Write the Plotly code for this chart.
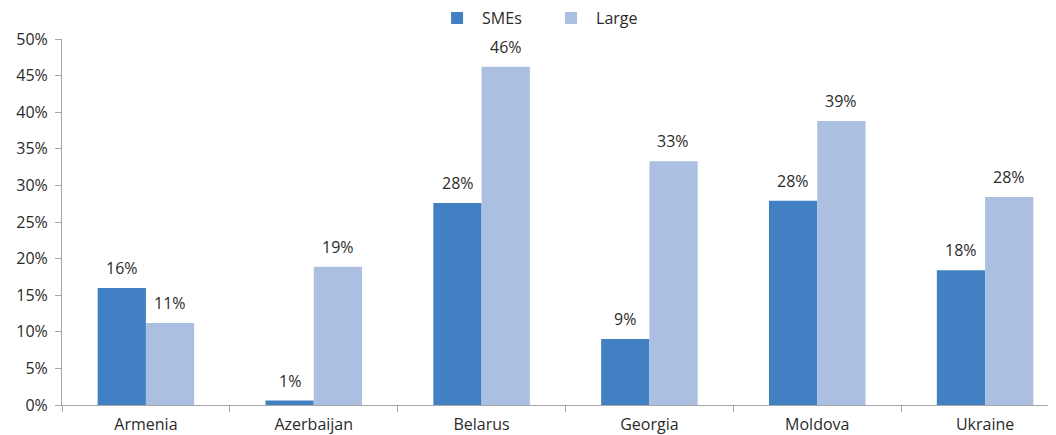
import plotly.graph_objects as go

countries = ["Armenia", "Azerbaijan", "Belarus", "Georgia", "Moldova", "Ukraine"]
smes = [0.160, 0.006, 0.276, 0.090, 0.279, 0.184]
large = [0.112, 0.189, 0.462, 0.333, 0.388, 0.284]

SME_COLOR = "#4080C3"
LARGE_COLOR = "#ABBFE1"
TEXT = "#2B2B2B"
FONT = "Open Sans"

fig = go.Figure()
fig.add_trace(go.Bar(x=countries, y=smes, name="SMEs", marker_color=SME_COLOR,
                     marker_line_width=0))
fig.add_trace(go.Bar(x=countries, y=large, name="Large", marker_color=LARGE_COLOR,
                     marker_line_width=0))

# value labels, placed a bit above each bar
annotations = []
for vals, shift in ((smes, -24), (large, 24)):
    for c, v in zip(countries, vals):
        annotations.append(dict(
            x=c, y=v, text=f"{v:.0%}", showarrow=False,
            xshift=shift, yshift=7, yanchor="bottom",
            font=dict(family=FONT, size=16, color=TEXT),
        ))

# the page body has an 8px margin; the plot runs a little past the window's right edge
fig.update_layout(
    width=1064, height=427,
    margin=dict(l=54, r=3, t=31, b=30, autoexpand=False),
    plot_bgcolor="white", paper_bgcolor="white",
    barmode="group", bargap=0.425, bargroupgap=0,
    font=dict(family=FONT, size=16, color=TEXT),
    legend=dict(orientation="h", x=0.3675, xanchor="left",
                y=1.057, yanchor="middle",
                font=dict(size=16), itemwidth=40,
                entrywidth=59, entrywidthmode="pixels", traceorder="normal"),
    annotations=annotations,
    xaxis=dict(showline=True, linecolor="#A6A6A6", linewidth=1, automargin=False,
               ticks="outside", tickson="boundaries", ticklen=6, tickcolor="#A6A6A6",
               ticklabelstandoff=5, showgrid=False),
    yaxis=dict(range=[0, 0.5], dtick=0.05, tickformat=".0%", automargin=False,
               showline=True, linecolor="#A6A6A6", linewidth=1,
               ticks="outside", ticklen=6, tickcolor="#A6A6A6",
               ticklabelstandoff=4, showgrid=False, zeroline=False),
)

fig.write_html("out.html")
